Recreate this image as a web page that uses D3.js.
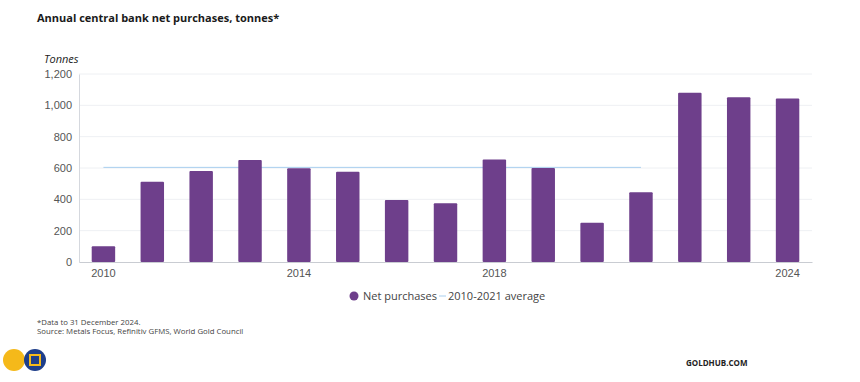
<!DOCTYPE html>
<html>
<head>
<meta charset="utf-8">
<script src="https://cdn.jsdelivr.net/npm/d3@7"></script>
<style>
  body { margin: 0; background: #fff; font-family: "Open Sans", "Noto Sans", sans-serif; }
  .grid line { stroke: #eef0f3; }
  .axis text { fill: #555; font-size: 11px; }
</style>
</head>
<body>
<svg id="chart" width="860" height="382"></svg>
<script>
// values
let years = [2010, 2011, 2012, 2013, 2014, 2015, 2016, 2017, 2018, 2019, 2020, 2021, 2022, 2023, 2024];
let purchases = [100, 512, 581, 651, 598, 576, 395, 375, 655, 600, 250, 445, 1080, 1051, 1043];
let averageValue = 604;
let averageYears = [2010, 2021];
let yTicks = [0, 200, 400, 600, 800, 1000, 1200];
let xTickYears = [2010, 2014, 2018, 2024];

let svg = d3.select("#chart");
let margin = {left: 79, right: 48, top: 74, bottom: 120};
let width = 860 - margin.left - margin.right;
let height = 382 - margin.top - margin.bottom;

let x = d3.scaleBand()
    .domain(years)
    .range([margin.left, margin.left + width])
    .paddingInner(0.52)
    .paddingOuter(0.26);

let y = d3.scaleLinear()
    .domain([0, 1200])
    .range([margin.top + height, margin.top]);

// title
svg.append("text")
    .attr("x", 37).attr("y", 22)
    .attr("font-size", 11).attr("font-weight", 700)
    .attr("fill", "#1a1a1a")
    .text("Annual central bank net purchases, tonnes*");

svg.append("text")
    .attr("x", 44).attr("y", 63)
    .attr("font-size", 11).attr("font-style", "italic")
    .attr("fill", "#222")
    .text("Tonnes");

// gridlines
svg.append("g")
    .attr("class", "grid")
    .selectAll("line")
    .data(yTicks.slice(1))
    .enter()
    .append("line")
    .attr("x1", margin.left).attr("x2", margin.left + width)
    .attr("y1", d => y(d)).attr("y2", d => y(d));

// y axis
let yAxis = svg.append("g")
    .attr("class", "axis")
    .attr("transform", `translate(${margin.left},0)`)
    .call(d3.axisLeft(y).tickValues(yTicks).tickSize(0).tickPadding(7).tickFormat(d3.format(",")));
yAxis.select(".domain").attr("stroke", "#d5d8de");

// x axis
let xAxis = svg.append("g")
    .attr("class", "axis")
    .attr("transform", `translate(0,${margin.top + height})`)
    .call(d3.axisBottom(x).tickValues(xTickYears).tickSize(0).tickPadding(7));
xAxis.select(".domain").attr("stroke", "#c9ccd2");

// average line
svg.append("line")
    .attr("x1", x(averageYears[0]) + x.bandwidth() / 2)
    .attr("x2", x(averageYears[1]) + x.bandwidth() / 2)
    .attr("y1", y(averageValue)).attr("y2", y(averageValue))
    .attr("stroke", "#a9cfee").attr("stroke-width", 1);

// bars
svg.append("g")
    .selectAll("rect")
    .data(years)
    .enter()
    .append("rect")
    .attr("x", d => x(d))
    .attr("width", x.bandwidth())
    .attr("y", (d, i) => y(purchases[i]))
    .attr("height", (d, i) => y(0) - y(purchases[i]))
    .attr("rx", 1)
    .attr("fill", "#6e3f8b");

// legend
let legend = svg.append("g").attr("transform", "translate(354,296)");
legend.append("circle").attr("r", 4.5).attr("fill", "#6e3f8b");
legend.append("text").attr("x", 9).attr("y", 4)
    .attr("font-size", 11).attr("fill", "#444").text("Net purchases");
legend.append("line").attr("x1", 85).attr("x2", 92).attr("y1", 0).attr("y2", 0)
    .attr("stroke", "#a9cfee");
legend.append("text").attr("x", 94).attr("y", 4)
    .attr("font-size", 11).attr("fill", "#444").text("2010-2021 average");

// footnotes
svg.append("text").attr("x", 37).attr("y", 325)
    .attr("font-size", 7.8).attr("fill", "#444").text("*Data to 31 December 2024.");
svg.append("text").attr("x", 37).attr("y", 334)
    .attr("font-size", 7.8).attr("fill", "#444").text("Source: Metals Focus, Refinitiv GFMS, World Gold Council");

// logo
svg.append("circle").attr("cx", 14).attr("cy", 360).attr("r", 11).attr("fill", "#f5b91a");
svg.append("circle").attr("cx", 35).attr("cy", 360).attr("r", 11).attr("fill", "#1f3f8a");
svg.append("rect").attr("x", 30).attr("y", 355).attr("width", 10).attr("height", 10)
    .attr("fill", "none").attr("stroke", "#f5b91a").attr("stroke-width", 2);

svg.append("text").attr("x", 686).attr("y", 366)
    .attr("font-size", 8).attr("font-weight", 700).attr("fill", "#222").text("GOLDHUB.COM");
</script>
</body>
</html>
